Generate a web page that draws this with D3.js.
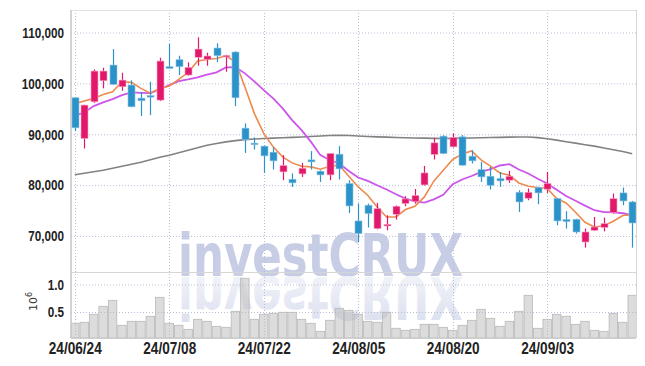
<!DOCTYPE html>
<html>
<head>
<meta charset="utf-8">
<script src="https://cdn.jsdelivr.net/npm/d3@7"></script>
<style>
  body { margin: 0; background: #fff; }
  svg { display: block; }
  .tick line { display: none; }
</style>
</head>
<body>
<svg></svg>
<script>
// trading days, 24/06/24 .. 24/09/19
const dates = [
  "24/06/24","24/06/25","24/06/26","24/06/27","24/06/28",
  "24/07/01","24/07/02","24/07/03","24/07/04","24/07/05",
  "24/07/08","24/07/09","24/07/10","24/07/11","24/07/12",
  "24/07/15","24/07/16","24/07/17","24/07/18","24/07/19",
  "24/07/22","24/07/23","24/07/24","24/07/25","24/07/26",
  "24/07/29","24/07/30","24/07/31","24/08/01","24/08/02",
  "24/08/05","24/08/06","24/08/07","24/08/08","24/08/09",
  "24/08/12","24/08/13","24/08/14","24/08/16","24/08/19",
  "24/08/20","24/08/21","24/08/22","24/08/23","24/08/26",
  "24/08/27","24/08/28","24/08/29","24/08/30","24/09/02",
  "24/09/03","24/09/04","24/09/05","24/09/06","24/09/09",
  "24/09/10","24/09/11","24/09/12","24/09/13","24/09/19"
]

const opens = [97170,89170,96380,100510,103600,99330,99670,97100,97600,96710,
  103270,104650,101640,105120,104730,106950,105300,106160,91200,88250,
  87660,86480,82600,81160,82200,84960,82740,82010,86080,80320,
  72960,76050,71460,71970,74270,76380,76830,80040,86030,89630,
  87520,89490,85690,83070,81750,81300,80970,78600,77420,79530,
  79200,77360,73230,73290,68820,71120,71660,74610,78470,76690]
const highs = [97300,95800,102760,103070,106750,102090,100590,98350,100320,105040,
  107740,105440,104140,109060,106030,107880,105600,106300,92130,89370,
  87800,87400,85890,82290,84370,86680,82900,86300,87660,80970,
  76380,76380,76500,74080,76000,77820,79250,83780,89290,89800,
  90160,89820,86870,84570,83590,82600,82800,79000,79330,79700,
  82600,77500,74860,73400,71460,73740,73620,78350,79530,76890]
const lows = [90610,87200,96180,99020,99700,98550,95300,93570,93760,96520,
  102900,101640,101500,103470,103470,104200,102290,95530,86340,87010,
  82400,83070,80970,79650,81620,83070,80630,80970,81100,74530,
  68800,71660,71300,71120,73230,75850,76380,79900,85040,86100,
  87400,83800,84250,80630,79140,79650,80440,74730,77030,76240,
  78470,72110,71460,70470,67720,70990,70920,74410,76050,67720]
const closes = [91260,95730,102420,102420,99800,100650,95400,96580,97400,104390,
  102950,103270,103150,106750,105380,105440,105500,97170,88980,87990,
  85750,84770,83860,80440,83330,84570,82010,86220,83190,75910,
  70470,74410,75400,72300,75850,77290,77960,82400,88310,86220,
  89370,83920,84770,81620,79980,80830,81750,76690,78600,78470,
  80320,72960,72840,70790,70790,71770,72440,77360,76890,72560]

// moving averages
const maShort = [95980,96520,97050,97830,98350,100310,100200,99020,98090,99020,
  99470,100790,102170,104390,104690,104880,105430,104250,99330,94100,
  90160,87520,85550,84370,83720,83580,83130,83720,83920,81750,
  79650,78010,75710,73740,73740,75200,75850,77680,80770,82930,
  85040,86140,86730,84960,83720,82400,81950,80430,79780,79530,
  79390,77360,76500,74670,72700,71770,72010,72890,74040,74170]
const maMid = [93620,94290,95530,96260,96910,97700,98230,98150,98090,98820,
  99670,100450,100790,101180,101730,102170,103150,103210,101970,100390,
  98680,97050,95080,92780,90810,88500,85890,84900,84250,82780,
  81500,80830,79980,79130,78210,77360,76830,76580,77190,78110,
  80180,81100,81790,82600,83130,83860,84110,83070,82280,81260,
  80320,79100,77870,76930,75980,75060,74700,74670,74470,74080]
const maLong = [82050,82340,82640,82930,83330,83720,84110,84510,85000,85490,
  85890,86380,86870,87360,87850,88190,88500,88740,88940,89080,
  89170,89230,89310,89390,89470,89570,89670,89740,89780,89740,
  89670,89570,89490,89430,89370,89310,89270,89230,89190,89170,
  89190,89230,89270,89310,89350,89390,89430,89470,89470,89330,
  89130,88840,88540,88250,87950,87660,87300,86970,86610,86180]

// volume, millions of shares
const volumes = [0.295,0.313,0.458,0.604,0.713,0.258,0.331,0.331,0.422,0.767,
  0.295,0.258,0.185,0.367,0.331,0.240,0.222,0.513,1.113,0.367,
  0.458,0.476,0.495,0.495,0.367,0.295,0.149,0.349,0.567,0.531,
  0.458,0.331,0.313,0.495,0.204,0.167,0.185,0.276,0.276,0.222,
  0.167,0.258,0.349,0.549,0.385,0.240,0.331,0.513,0.804,0.204,
  0.367,0.458,0.422,0.276,0.331,0.167,0.149,0.476,0.313,0.804]

const priceTicks = [70000, 80000, 90000, 100000, 110000]
const volumeTicks = [0.5, 1.0]
const dateTicks = [0, 10, 20, 30, 40, 50]

let width = 645
let height = 366
let plotLeft = 71
let plotRight = 636
let plotTop = 10
let plotSplit = 272
let plotBottom = 338

let svg = d3.select("svg").attr("width", width).attr("height", height)

let xScale = d3.scaleLinear().domain([-0.4, dates.length - 0.6]).range([plotLeft, plotRight])
let yScale = d3.scaleLinear().domain([70000, 110000]).range([236, 32.5])
let vScale = d3.scaleLinear().domain([0, 1]).range([339.5, 284.5])

const upColor = "#e2196b"
const downColor = "#2b93c9"
const gridColor = "#b9bdd6"

const defs = svg.append("defs")
defs.append("clipPath").attr("id", "clipMain")
    .append("rect").attr("x", plotLeft).attr("y", plotTop)
    .attr("width", plotRight - plotLeft).attr("height", plotSplit - plotTop)
defs.append("clipPath").attr("id", "clipVol")
    .append("rect").attr("x", plotLeft).attr("y", plotSplit)
    .attr("width", plotRight - plotLeft).attr("height", plotBottom - plotSplit)
let grad = defs.append("linearGradient").attr("id", "fade")
    .attr("x1", 0).attr("y1", 0).attr("x2", 0).attr("y2", 1)
grad.append("stop").attr("offset", "0%").attr("stop-color", "#d8ddee")
grad.append("stop").attr("offset", "100%").attr("stop-color", "#f7f8fb")

// watermark with its reflection
const addWatermark = (parent, fill) => {
    parent.append("text")
        .attr("x", 178).attr("y", 276)
        .attr("textLength", 285).attr("lengthAdjust", "spacingAndGlyphs")
        .style("font-family", "'DejaVu Sans', sans-serif")
        .style("font-weight", "bold").style("font-size", "58px")
        .attr("fill", fill)
        .text("investCRUX")
}
const drawWatermark = () => {
    let g = svg.append("g")
    addWatermark(g, "#c6cde5")
    addWatermark(g.append("g").attr("transform", "translate(0,553) scale(1,-1)"), "url(#fade)")
}

const drawGrid = () => {
    svg.append("g").selectAll("line")
        .data(priceTicks).enter().append("line")
        .attr("x1", plotLeft).attr("x2", plotRight)
        .attr("y1", d => yScale(d) + 0.5).attr("y2", d => yScale(d) + 0.5)
        .attr("stroke", gridColor).attr("stroke-dasharray", "1,2")
    svg.append("g").selectAll("line")
        .data(volumeTicks).enter().append("line")
        .attr("x1", plotLeft).attr("x2", plotRight)
        .attr("y1", d => vScale(d) + 0.5).attr("y2", d => vScale(d) + 0.5)
        .attr("stroke", gridColor).attr("stroke-dasharray", "1,2")
    svg.append("g").selectAll("line")
        .data(dateTicks).enter().append("line")
        .attr("x1", d => Math.round(xScale(d)) + 0.5).attr("x2", d => Math.round(xScale(d)) + 0.5)
        .attr("y1", plotTop).attr("y2", plotBottom)
        .attr("stroke", gridColor).attr("stroke-dasharray", "1,2")
}

const drawVolume = () => {
    let step = xScale(1) - xScale(0)
    svg.append("g").attr("clip-path", "url(#clipVol)")
        .selectAll("rect")
        .data(volumes).enter().append("rect")
        .attr("x", (d, i) => xScale(i) - step / 2 + 0.5)
        .attr("width", step - 1)
        .attr("y", d => vScale(d))
        .attr("height", d => plotBottom - vScale(d))
        .attr("fill", "rgba(185,185,185,0.5)")
        .attr("stroke", "#b8b8b8").attr("stroke-width", 0.8)
}

const drawLines = () => {
    let g = svg.append("g").attr("clip-path", "url(#clipMain)")
    let line = d3.line().x((d, i) => xScale(i)).y(d => yScale(d))
    g.append("path").datum(maLong).attr("d", line)
        .attr("fill", "none").attr("stroke", "#828282").attr("stroke-width", 1.6)
    g.append("path").datum(maMid).attr("d", line)
        .attr("fill", "none").attr("stroke", "#cc55ea").attr("stroke-width", 1.8)
    g.append("path").datum(maShort).attr("d", line)
        .attr("fill", "none").attr("stroke", "#ef8a4e").attr("stroke-width", 1.6)
}

const drawCandles = () => {
    let g = svg.append("g").attr("clip-path", "url(#clipMain)")
    let idx = d3.range(dates.length)
    let color = i => closes[i] >= opens[i] ? upColor : downColor
    g.selectAll("line.wick")
        .data(idx).enter().append("line")
        .attr("class", "wick")
        .attr("x1", i => Math.round(xScale(i)) + 0.5).attr("x2", i => Math.round(xScale(i)) + 0.5)
        .attr("y1", i => yScale(highs[i])).attr("y2", i => yScale(lows[i]))
        .attr("stroke", color).attr("stroke-width", 1.2)
    g.selectAll("rect.body")
        .data(idx).enter().append("rect")
        .attr("class", "body")
        .attr("x", i => Math.round(xScale(i)) - 3)
        .attr("width", 7)
        .attr("y", i => yScale(Math.max(opens[i], closes[i])))
        .attr("height", i => Math.max(1.5, Math.abs(yScale(opens[i]) - yScale(closes[i]))))
        .attr("fill", color)
        .attr("stroke", i => closes[i] >= opens[i] ? "#f3a9c6" : "#8fc4e2")
        .attr("stroke-width", 0.6)
}

const drawFrame = () => {
    svg.append("line").attr("x1", plotLeft).attr("x2", plotRight)
        .attr("y1", plotTop + 0.5).attr("y2", plotTop + 0.5).attr("stroke", "#e2e2e2")
    svg.append("line").attr("x1", plotLeft).attr("x2", plotRight)
        .attr("y1", plotSplit + 0.5).attr("y2", plotSplit + 0.5).attr("stroke", "#d6d6d6")
    svg.append("line").attr("x1", plotLeft).attr("x2", plotRight)
        .attr("y1", plotBottom + 0.5).attr("y2", plotBottom + 0.5).attr("stroke", "#cfcfcf")
    svg.append("line").attr("x1", plotRight + 0.5).attr("x2", plotRight + 0.5)
        .attr("y1", plotTop).attr("y2", plotBottom).attr("stroke", "#d6d6d6")
    svg.append("line").attr("x1", plotLeft).attr("x2", plotLeft)
        .attr("y1", plotTop).attr("y2", plotBottom)
        .attr("stroke", "#c4c4c4").attr("stroke-width", 1.5)
}

// bold labels, squeezed horizontally to look like the condensed face of the original
const styleTicks = (g, size, squeeze) => {
    g.select(".domain").remove()
    g.selectAll("text")
        .style("font-family", "'Liberation Sans', sans-serif")
        .style("font-weight", "bold")
        .style("font-size", size + "px").attr("fill", "#222")
        .each(function () {
            let w = this.getComputedTextLength()
            d3.select(this).attr("textLength", w * squeeze).attr("lengthAdjust", "spacingAndGlyphs")
        })
}

const drawAxes = () => {
    let yAxis = d3.axisLeft(yScale).tickValues(priceTicks).tickFormat(d3.format(","))
        .tickSize(0).tickPadding(7)
    styleTicks(svg.append("g").attr("transform", "translate(" + plotLeft + ",0)").call(yAxis), 15, 0.78)

    let vAxis = d3.axisLeft(vScale).tickValues(volumeTicks).tickFormat(d3.format(".1f"))
        .tickSize(0).tickPadding(7)
    styleTicks(svg.append("g").attr("transform", "translate(" + plotLeft + ",0)").call(vAxis), 15, 0.78)

    let xAxis = d3.axisBottom(xScale).tickValues(dateTicks).tickFormat(i => dates[i])
        .tickSize(0).tickPadding(5)
    styleTicks(svg.append("g").attr("transform", "translate(0," + plotBottom + ")").call(xAxis), 16, 0.85)

    let unit = svg.append("text")
        .attr("transform", "translate(37,311) rotate(-90)")
        .style("font-family", "'DejaVu Sans', sans-serif").style("font-size", "11px")
        .attr("fill", "#333")
    unit.append("tspan").text("10")
    unit.append("tspan").attr("dy", -5).style("font-size", "8px").text("6")
}

drawWatermark()
drawGrid()
drawVolume()
drawLines()
drawCandles()
drawFrame()
drawAxes()
</script>
</body>
</html>
